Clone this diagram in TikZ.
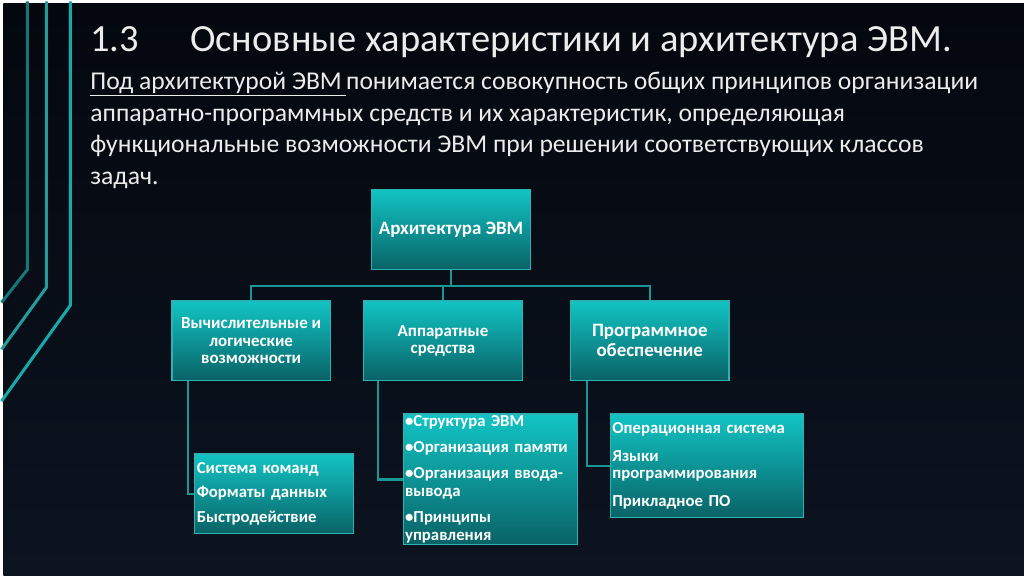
\documentclass[tikz,border=0pt]{standalone}
\usepackage{fontspec}
\setmainfont{Carlito}
\usepackage{xcolor}
\usepackage{tikz}
\usetikzlibrary{positioning}

\definecolor{bgtop}{RGB}{4,7,14}
\definecolor{bgbot}{RGB}{12,20,32}
\definecolor{boxtop}{RGB}{18,196,196}
\definecolor{boxbot}{RGB}{9,98,102}
\definecolor{boxline}{RGB}{44,178,178}
\definecolor{connc}{RGB}{26,150,150}
\definecolor{txtc}{RGB}{236,236,236}

\begin{document}
\begin{tikzpicture}[x=1pt, y=-1pt,
    box/.style    ={draw=boxline, line width=1.2pt, top color=boxtop, bottom color=boxbot,
                    text=white, align=center, inner sep=1pt},
    head/.style   ={box, minimum width=159pt, minimum height=80pt,
                    font=\fontsize{17}{17.5}\selectfont\bfseries},
    leaf/.style   ={box, align=left, inner xsep=2pt},
    conn/.style   ={connc, line width=2.4pt},
    deco/.style   ={line width=3pt}
  ]
    % --- background ---
    \shade[top color=bgtop, bottom color=bgbot] (0,0) rectangle (1024,574);
    \draw[deco, connc!80!black] (24,-2) -- (24,267) -- (-2,300);
    \draw[deco, connc!95!white] (43,-2) -- (43,285) -- (-2,347);
    \draw[deco, connc!80!cyan]  (67,-2) -- (67,303) -- (-2,399);

    % --- title and definition ---
    \node[anchor=base west, inner sep=0, text=txtc, font=\fontsize{38.6}{40}\selectfont]
      (title) at (87,48) {\makebox[100pt][l]{1.3}Основные характеристики и архитектура ЭВМ.};
    \node[anchor=north west, inner sep=0, align=left, text=txtc,
          font=\fontsize{25.7}{31.5}\selectfont] (def) at (87,69)
      {\underline{Под архитектурой ЭВМ\,}понимается совокупность общих принципов организации\\
       аппаратно-программных средств и их характеристик, определяющая\\
       функциональные возможности ЭВМ при решении соответствующих классов\\
       задач.};

    % --- hierarchy ---
    \node[head, font=\fontsize{19}{21}\selectfont\bfseries] (root) at (449,227) {Архитектура ЭВМ};
    \node[head] (calc) at (248.5,338.5) {Вычислительные и\\логические\\возможности};
    \node[head] (hw)   at (441,338.5)   {Аппаратные\\средства};
    \node[head, font=\fontsize{19}{20}\selectfont\bfseries] (sw) at (648.5,338.5)
      {Программное\\обеспечение};

    \node[leaf, text width=155pt, minimum height=80pt,
          font=\fontsize{16.8}{18}\selectfont\bfseries] (calcl) at (271.5,492)
      {Система команд\\[7pt]Форматы данных\\[7pt]Быстродействие};
    \node[leaf, text width=171pt, minimum height=131pt,
          font=\fontsize{16.8}{18.5}\selectfont\bfseries] (hwl) at (488.5,477.5)
      {•Структура ЭВМ\\[7.5pt]•Организация памяти\\[7.5pt]•Организация ввода-\\вывода\\[7.5pt]•Принципы\\управления};
    \node[leaf, text width=190pt, minimum height=104pt,
          font=\fontsize{16.8}{17.5}\selectfont\bfseries] (swl) at (706,464)
      {Операционная система\\[10pt]Языки\\программирования\\[10pt]Прикладное ПО};

    % --- connectors ---
    \draw[conn] (root.south) -- ++(0,16) -| (calc.north);
    \draw[conn] (root.south) -- ++(0,16) -| (hw.north);
    \draw[conn] (root.south) -- ++(0,16) -| (sw.north);
    \draw[conn] ([xshift=17pt]calc.south west) |- (calcl.west);
    \draw[conn] ([xshift=15pt]hw.south west)   |- (hwl.west);
    \draw[conn] ([xshift=17pt]sw.south west)   |- (swl.west);
\end{tikzpicture}
\end{document}
